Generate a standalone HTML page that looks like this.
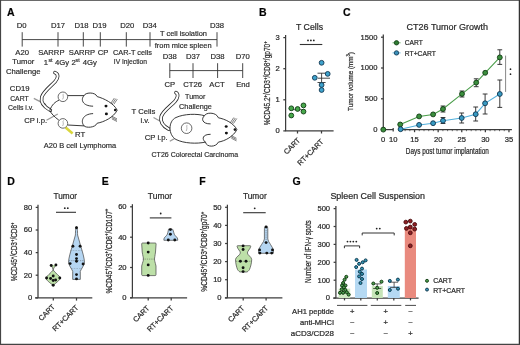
<!DOCTYPE html>
<html><head><meta charset="utf-8"><style>
html,body{margin:0;padding:0;background:#fff;width:520px;height:345px;overflow:hidden;}
svg{display:block;will-change:transform;}
text{font-family:"Liberation Sans", sans-serif;stroke:#2a2a2a;stroke-width:0.22px;}
.pa text{stroke-width:0.18px;}
</style></head><body>
<svg width="520" height="345" viewBox="0 0 520 345">
<rect width="520" height="345" fill="#fff"/>
<line x1="0" y1="0.5" x2="520" y2="0.5" stroke="#6a6a6a" stroke-width="1.2"/>
<line x1="0.5" y1="0" x2="0.5" y2="345" stroke="#444" stroke-width="1.2"/>
<line x1="519.4" y1="0" x2="519.4" y2="345" stroke="#333" stroke-width="1.3"/>
<line x1="0" y1="344.4" x2="520" y2="344.4" stroke="#444" stroke-width="1.3"/>
<text x="7" y="15.7" font-size="10.5" font-weight="bold" fill="#000">A</text>
<text x="259" y="15.8" font-size="10.5" font-weight="bold" fill="#000">B</text>
<text x="343" y="15.7" font-size="10.5" font-weight="bold" fill="#000">C</text>
<text x="7.3" y="185" font-size="10.5" font-weight="bold" fill="#000">D</text>
<text x="101.7" y="185" font-size="10.5" font-weight="bold" fill="#000">E</text>
<text x="199.3" y="185" font-size="10.5" font-weight="bold" fill="#000">F</text>
<text x="292.5" y="185" font-size="10.5" font-weight="bold" fill="#000">G</text>
<g class="pa">
<line x1="22.2" y1="39.6" x2="217" y2="39.6" stroke="#333" stroke-width="0.9"/>
<line x1="22.2" y1="32.2" x2="22.2" y2="46.6" stroke="#333" stroke-width="0.9"/>
<line x1="58" y1="32.2" x2="58" y2="46.6" stroke="#333" stroke-width="0.9"/>
<line x1="83.3" y1="32.2" x2="83.3" y2="46.6" stroke="#333" stroke-width="0.9"/>
<line x1="100.3" y1="32.2" x2="100.3" y2="46.6" stroke="#333" stroke-width="0.9"/>
<line x1="126.3" y1="32.2" x2="126.3" y2="46.6" stroke="#333" stroke-width="0.9"/>
<line x1="150" y1="32.2" x2="150" y2="46.6" stroke="#333" stroke-width="0.9"/>
<line x1="217" y1="32.2" x2="217" y2="46.6" stroke="#333" stroke-width="0.9"/>
<text x="21.7" y="27.8" font-size="7.7" text-anchor="middle" fill="#2a2a2a">D0</text>
<text x="58" y="27.8" font-size="7.7" text-anchor="middle" fill="#2a2a2a">D17</text>
<text x="81.6" y="27.8" font-size="7.7" text-anchor="middle" fill="#2a2a2a">D18</text>
<text x="99.6" y="27.8" font-size="7.7" text-anchor="middle" fill="#2a2a2a">D19</text>
<text x="127.2" y="27.8" font-size="7.7" text-anchor="middle" fill="#2a2a2a">D20</text>
<text x="149.8" y="27.8" font-size="7.7" text-anchor="middle" fill="#2a2a2a">D34</text>
<text x="217" y="27.8" font-size="7.7" text-anchor="middle" fill="#2a2a2a">D38</text>
<text x="22.2" y="54.8" font-size="7.7" text-anchor="middle" fill="#2a2a2a">A20</text>
<text x="38.2" y="54.8" font-size="7.7" textLength="26.3" lengthAdjust="spacingAndGlyphs" fill="#2a2a2a">SARRP</text>
<text x="68.8" y="54.8" font-size="7.7" textLength="26.3" lengthAdjust="spacingAndGlyphs" fill="#2a2a2a">SARRP</text>
<text x="97.7" y="54.8" font-size="7.7" fill="#2a2a2a">CP</text>
<text x="113" y="54.8" font-size="7.7" textLength="39" lengthAdjust="spacingAndGlyphs" fill="#2a2a2a">CAR-T cells</text>
<text x="23.3" y="64.3" font-size="7.7" text-anchor="middle" fill="#2a2a2a">Tumor</text>
<text x="23.3" y="74.2" font-size="7.7" text-anchor="middle" fill="#2a2a2a">Challenge</text>
<text x="43.7" y="65.4" font-size="7.7" fill="#2a2a2a">1</text>
<text x="48.5" y="62.2" font-size="5.2" fill="#2a2a2a">st</text>
<text x="55" y="65.4" font-size="7.7" fill="#2a2a2a">4Gy</text>
<text x="71.4" y="65.4" font-size="7.7" fill="#2a2a2a">2</text>
<text x="75.6" y="62.3" font-size="5.2" fill="#2a2a2a">st</text>
<text x="82.7" y="65.4" font-size="7.7" fill="#2a2a2a">4Gy</text>
<text x="113.8" y="64.3" font-size="7.7" textLength="33.2" lengthAdjust="spacingAndGlyphs" fill="#2a2a2a">IV Injection</text>
<text x="183.5" y="36.2" font-size="7.5" text-anchor="middle" textLength="47" lengthAdjust="spacingAndGlyphs" fill="#2a2a2a">T cell isolation</text>
<text x="183.2" y="47.8" font-size="7.3" text-anchor="middle" textLength="57" lengthAdjust="spacingAndGlyphs" fill="#2a2a2a">from mice spleen</text>
<line x1="169.8" y1="70.6" x2="242.7" y2="70.6" stroke="#333" stroke-width="0.9"/>
<line x1="169.8" y1="63.2" x2="169.8" y2="78" stroke="#333" stroke-width="0.9"/>
<line x1="193" y1="63.2" x2="193" y2="78" stroke="#333" stroke-width="0.9"/>
<line x1="217.6" y1="63.2" x2="217.6" y2="78" stroke="#333" stroke-width="0.9"/>
<line x1="242.7" y1="63.2" x2="242.7" y2="78" stroke="#333" stroke-width="0.9"/>
<text x="169.8" y="59" font-size="7.7" text-anchor="middle" fill="#2a2a2a">D38</text>
<text x="193" y="59" font-size="7.7" text-anchor="middle" fill="#2a2a2a">D37</text>
<text x="217.6" y="59" font-size="7.7" text-anchor="middle" fill="#2a2a2a">D38</text>
<text x="242.7" y="59" font-size="7.7" text-anchor="middle" fill="#2a2a2a">D70</text>
<text x="169.8" y="87" font-size="7.7" text-anchor="middle" fill="#2a2a2a">CP</text>
<text x="192.6" y="87" font-size="7.7" text-anchor="middle" fill="#2a2a2a">CT26</text>
<text x="217" y="87" font-size="7.7" text-anchor="middle" fill="#2a2a2a">ACT</text>
<text x="243" y="87" font-size="7.7" text-anchor="middle" fill="#2a2a2a">End</text>
<text x="195.2" y="99" font-size="7.7" text-anchor="middle" textLength="20.3" lengthAdjust="spacingAndGlyphs" fill="#2a2a2a">Tumor</text>
<text x="195.5" y="109" font-size="7.7" text-anchor="middle" textLength="32.8" lengthAdjust="spacingAndGlyphs" fill="#2a2a2a">Challenge</text>
<text x="19.7" y="91.2" font-size="7.7" text-anchor="middle" fill="#2a2a2a">CD19</text>
<text x="19.4" y="100.6" font-size="7.7" text-anchor="middle" textLength="18.4" lengthAdjust="spacingAndGlyphs" fill="#2a2a2a">CART</text>
<text x="20.9" y="110.2" font-size="7.7" text-anchor="middle" textLength="25.6" lengthAdjust="spacingAndGlyphs" fill="#2a2a2a">Cells i.v.</text>
<text x="35.6" y="123" font-size="7.7" text-anchor="middle" fill="#2a2a2a">CP i.p.</text>
<text x="75" y="137" font-size="7.7" fill="#2a2a2a">RT</text>
<text x="80" y="148.2" font-size="7.7" text-anchor="middle" textLength="72.5" lengthAdjust="spacingAndGlyphs" fill="#2a2a2a">A20 B cell Lymphoma</text>
<text x="143.4" y="114" font-size="7.7" text-anchor="middle" fill="#2a2a2a">T Cells</text>
<text x="145.1" y="123.2" font-size="7.7" text-anchor="middle" fill="#2a2a2a">i.v.</text>
<text x="156.2" y="139.6" font-size="7.7" text-anchor="middle" fill="#2a2a2a">CP i.p.</text>
<text x="194.8" y="157" font-size="7.7" text-anchor="middle" textLength="86.5" lengthAdjust="spacingAndGlyphs" fill="#2a2a2a">CT26 Colorectal Carcinoma</text>
</g>
<line x1="33.8" y1="98.3" x2="46" y2="104.6" stroke="#9a9a9a" stroke-width="1.3"/>
<line x1="46.5" y1="120.3" x2="57.8" y2="114" stroke="#9a9a9a" stroke-width="1.3"/>
<path d="M55 72.6 C 58.6 74, 58.4 78, 55.2 81.5 C 50.5 86.5, 44 91, 41.8 97 C 40.5 102, 43.5 106.5, 50.3 110.3" fill="none" stroke="#2a2a2a" stroke-width="3.6" stroke-linecap="round"/>
<path d="M55 72.6 C 58.6 74, 58.4 78, 55.2 81.5 C 50.5 86.5, 44 91, 41.8 97 C 40.5 102, 43.5 106.5, 50.3 110.3" fill="none" stroke="#fff" stroke-width="2.0" stroke-linecap="round"/>
<path d="M59.3 100 C 55 102, 52 104.5, 49.8 110.3 C 51 113.5, 54.5 117, 58.8 120.1" fill="none" stroke="#222" stroke-width="0.9"/>
<path d="M67.8 95.6 L 84.1 95.6" fill="none" stroke="#222" stroke-width="0.9"/>
<path d="M67.8 125 L 84.1 125.9" fill="none" stroke="#222" stroke-width="0.9"/>
<path d="M84.1 95.6 C 85 92.5, 95 91.5, 97.2 96.6 C 104 98.5, 113.5 103, 117.2 110.2 C 113.5 117.5, 104 122, 97.2 123.2 C 95 128, 86 128, 84.1 125.9" fill="none" stroke="#222" stroke-width="0.9"/>
<path d="M84.1 95.6 C 80.5 99, 82 106, 93.1 106.2" fill="none" stroke="#222" stroke-width="0.9"/>
<path d="M84.1 125.9 C 80.5 122, 82 114, 93.1 113.6" fill="none" stroke="#222" stroke-width="0.9"/>
<ellipse cx="106" cy="106.1" rx="1.5" ry="1.3" fill="#111"/>
<ellipse cx="106.4" cy="113.9" rx="1.5" ry="1.3" fill="#111"/>
<circle cx="115.2" cy="110" r="1.3" fill="#111"/>
<line x1="110.9" y1="103.2" x2="114.3" y2="98.1" stroke="#2a2a2a" stroke-width="0.6"/>
<line x1="112.4" y1="103.7" x2="115.8" y2="98.6" stroke="#2a2a2a" stroke-width="0.6"/>
<line x1="113.9" y1="104.2" x2="117.3" y2="99.1" stroke="#2a2a2a" stroke-width="0.6"/>
<line x1="111.8" y1="116.2" x2="117" y2="118.9" stroke="#2a2a2a" stroke-width="0.6"/>
<line x1="111.8" y1="117.5" x2="117" y2="120.2" stroke="#2a2a2a" stroke-width="0.6"/>
<line x1="111.8" y1="118.8" x2="117" y2="121.5" stroke="#2a2a2a" stroke-width="0.6"/>
<circle cx="62.9" cy="96.8" r="4.8" fill="#fff" stroke="#444" stroke-width="0.8"/>
<path d="M63.6 93.8 C 62 94.8, 64.5 96.8, 62.6 99.39999999999999" fill="none" stroke="#888" stroke-width="0.6"/>
<circle cx="62.9" cy="123.4" r="4.8" fill="#fff" stroke="#444" stroke-width="0.8"/>
<path d="M63.6 120.4 C 62 121.4, 64.5 123.4, 62.6 126.0" fill="none" stroke="#888" stroke-width="0.6"/>
<line x1="65.6" y1="127.4" x2="72.6" y2="133.4" stroke="#d9d63c" stroke-width="2.6"/>
<line x1="153.5" y1="117.5" x2="163.5" y2="123" stroke="#9a9a9a" stroke-width="1.3"/>
<line x1="169.8" y1="141.3" x2="178" y2="136.6" stroke="#9a9a9a" stroke-width="1.3"/>
<path d="M176 92.6 C 178.6 94, 178 98, 174.8 101.5 C 170 106.5, 163 111, 161.2 116.6 C 160 121.5, 163 126, 168.8 129.2" fill="none" stroke="#2a2a2a" stroke-width="3.6" stroke-linecap="round"/>
<path d="M176 92.6 C 178.6 94, 178 98, 174.8 101.5 C 170 106.5, 163 111, 161.2 116.6 C 160 121.5, 163 126, 168.8 129.2" fill="none" stroke="#fff" stroke-width="2.0" stroke-linecap="round"/>
<path d="M204.5 115.7 C 197 113.5, 184 113.8, 176 117.5 C 168 121, 168 135, 176 139.5 C 184 143.5, 197 144, 205.4 142.1" fill="#fff" stroke="#222" stroke-width="0.9"/>
<path d="M204.5 115.7 C 205.5 112.5, 216 111.5, 218.4 117.8 C 225 119, 233.5 123, 236.9 129.6 C 233.5 136.5, 225 141, 218.4 142.1 C 216 147.5, 206.5 147.5, 205.4 142.1" fill="none" stroke="#222" stroke-width="0.9"/>
<path d="M204.5 115.7 C 201 118.5, 202 124, 210.6 123.9" fill="none" stroke="#222" stroke-width="0.9"/>
<path d="M205.4 142.1 C 201.5 139, 202.5 134.3, 210.6 134.3" fill="none" stroke="#222" stroke-width="0.9"/>
<ellipse cx="226.2" cy="126.5" rx="1.5" ry="1.3" fill="#111"/>
<ellipse cx="226.4" cy="133.1" rx="1.5" ry="1.3" fill="#111"/>
<circle cx="234.9" cy="129.6" r="1.3" fill="#111"/>
<line x1="230.4" y1="122.6" x2="233.8" y2="117.5" stroke="#2a2a2a" stroke-width="0.6"/>
<line x1="231.9" y1="123.1" x2="235.3" y2="118.0" stroke="#2a2a2a" stroke-width="0.6"/>
<line x1="233.4" y1="123.6" x2="236.8" y2="118.5" stroke="#2a2a2a" stroke-width="0.6"/>
<line x1="231.3" y1="135.6" x2="236.5" y2="138.3" stroke="#2a2a2a" stroke-width="0.6"/>
<line x1="231.3" y1="136.9" x2="236.5" y2="139.60000000000002" stroke="#2a2a2a" stroke-width="0.6"/>
<line x1="231.3" y1="138.2" x2="236.5" y2="140.9" stroke="#2a2a2a" stroke-width="0.6"/>
<circle cx="186.6" cy="128.2" r="5.3" fill="#fff" stroke="#444" stroke-width="0.8"/>
<path d="M187.2 125 C 185.8 126, 188 128, 186.2 131" fill="none" stroke="#888" stroke-width="0.6"/>
<text x="309.5" y="29.9" font-size="8.8" text-anchor="middle" textLength="27" lengthAdjust="spacingAndGlyphs" fill="#2a2a2a">T Cells</text>
<line x1="285.6" y1="35.0" x2="285.6" y2="131" stroke="#3c3c3c" stroke-width="1.25"/>
<line x1="283.3" y1="37.6" x2="285.6" y2="37.6" stroke="#3c3c3c" stroke-width="1.25"/>
<text x="279.8" y="40.050000000000004" font-size="7.6" text-anchor="end" fill="#2a2a2a">3</text>
<line x1="283.3" y1="68.7" x2="285.6" y2="68.7" stroke="#3c3c3c" stroke-width="1.25"/>
<text x="279.8" y="71.15" font-size="7.6" text-anchor="end" fill="#2a2a2a">2</text>
<line x1="283.3" y1="99.8" x2="285.6" y2="99.8" stroke="#3c3c3c" stroke-width="1.25"/>
<text x="279.8" y="102.25" font-size="7.6" text-anchor="end" fill="#2a2a2a">1</text>
<line x1="283.3" y1="130.9" x2="285.6" y2="130.9" stroke="#3c3c3c" stroke-width="1.25"/>
<text x="279.8" y="133.35" font-size="7.6" text-anchor="end" fill="#2a2a2a">0</text>
<line x1="285.1" y1="130.9" x2="333.6" y2="130.9" stroke="#3c3c3c" stroke-width="1.25"/>
<line x1="297.5" y1="130.9" x2="297.5" y2="133.5" stroke="#3c3c3c" stroke-width="1.25"/>
<line x1="321.5" y1="130.9" x2="321.5" y2="133.5" stroke="#3c3c3c" stroke-width="1.25"/>
<line x1="299.8" y1="44.5" x2="322.3" y2="44.5" stroke="#333" stroke-width="1.1"/>
<circle cx="308" cy="40.4" r="0.9" fill="#222"/>
<circle cx="310.9" cy="40.4" r="0.9" fill="#222"/>
<circle cx="313.8" cy="40.4" r="0.9" fill="#222"/>
<line x1="290" y1="109.7" x2="304" y2="109.7" stroke="#333" stroke-width="0.8"/>
<circle cx="291.3" cy="108.3" r="2.4" fill="#47a84b" stroke="#0f3a12" stroke-width="0.9"/>
<circle cx="297.6" cy="109" r="2.4" fill="#47a84b" stroke="#0f3a12" stroke-width="0.9"/>
<circle cx="303.5" cy="105.4" r="2.4" fill="#47a84b" stroke="#0f3a12" stroke-width="0.9"/>
<circle cx="303.5" cy="111.6" r="2.4" fill="#47a84b" stroke="#0f3a12" stroke-width="0.9"/>
<circle cx="291.3" cy="115.5" r="2.4" fill="#47a84b" stroke="#0f3a12" stroke-width="0.9"/>
<line x1="318" y1="78.2" x2="330" y2="78.2" stroke="#333" stroke-width="0.9"/>
<line x1="321.6" y1="73.2" x2="321.6" y2="82.5" stroke="#333" stroke-width="0.9"/>
<line x1="317.5" y1="73.2" x2="325.6" y2="73.2" stroke="#333" stroke-width="0.9"/>
<line x1="317.5" y1="82.5" x2="325.6" y2="82.5" stroke="#333" stroke-width="0.9"/>
<circle cx="321.6" cy="62.8" r="2.4" fill="#3ea2cc" stroke="#0e3550" stroke-width="0.9"/>
<circle cx="327.7" cy="73.9" r="2.4" fill="#3ea2cc" stroke="#0e3550" stroke-width="0.9"/>
<circle cx="314.8" cy="77.8" r="2.4" fill="#3ea2cc" stroke="#0e3550" stroke-width="0.9"/>
<circle cx="321.6" cy="85" r="2.4" fill="#3ea2cc" stroke="#0e3550" stroke-width="0.9"/>
<circle cx="321.6" cy="90" r="2.4" fill="#3ea2cc" stroke="#0e3550" stroke-width="0.9"/>
<text x="0" y="0" font-size="8.6" text-anchor="middle" fill="#2a2a2a" transform="translate(270.2 83.3) rotate(-90) scale(0.7583 1)">%CD45.2<tspan font-size="5.68" dy="-3.61">+</tspan><tspan dy="3.61">/CD3</tspan><tspan font-size="5.68" dy="-3.61">+</tspan><tspan dy="3.61">/CD8</tspan><tspan font-size="5.68" dy="-3.61">+</tspan><tspan dy="3.61">/gp70</tspan><tspan font-size="5.68" dy="-3.61">+</tspan></text>
<text x="0" y="0" font-size="7.3" text-anchor="end" fill="#2a2a2a" transform="translate(300.7 140.8) rotate(-45)">CART</text>
<text x="0" y="0" font-size="7.3" text-anchor="end" fill="#2a2a2a" transform="translate(324.0 142.2) rotate(-45)">RT+CART</text>
<text x="447.3" y="30.1" font-size="8.9" text-anchor="middle" textLength="81.5" lengthAdjust="spacingAndGlyphs" fill="#2a2a2a">CT26 Tumor Growth</text>
<line x1="383.3" y1="34.6" x2="383.3" y2="129.6" stroke="#3c3c3c" stroke-width="1.25"/>
<line x1="381.0" y1="37.2" x2="383.3" y2="37.2" stroke="#3c3c3c" stroke-width="1.25"/>
<text x="377.5" y="39.650000000000006" font-size="7.6" text-anchor="end" fill="#2a2a2a">1500</text>
<line x1="381.0" y1="68" x2="383.3" y2="68" stroke="#3c3c3c" stroke-width="1.25"/>
<text x="377.5" y="70.45" font-size="7.6" text-anchor="end" fill="#2a2a2a">1000</text>
<line x1="381.0" y1="98.8" x2="383.3" y2="98.8" stroke="#3c3c3c" stroke-width="1.25"/>
<text x="377.5" y="101.25" font-size="7.6" text-anchor="end" fill="#2a2a2a">500</text>
<line x1="381.0" y1="129.6" x2="383.3" y2="129.6" stroke="#3c3c3c" stroke-width="1.25"/>
<text x="377.5" y="132.04999999999998" font-size="7.6" text-anchor="end" fill="#2a2a2a">0</text>
<line x1="383.3" y1="129.6" x2="393.2" y2="129.6" stroke="#3c3c3c" stroke-width="1.25"/>
<line x1="393.2" y1="127.9" x2="393.2" y2="131.5" stroke="#3c3c3c" stroke-width="1.25"/>
<line x1="398.6" y1="129.6" x2="511.9" y2="129.6" stroke="#3c3c3c" stroke-width="1.25"/>
<line x1="405.12" y1="129.6" x2="405.12" y2="131.2" stroke="#333" stroke-width="0.7"/>
<line x1="409.84" y1="129.6" x2="409.84" y2="131.2" stroke="#333" stroke-width="0.7"/>
<line x1="414.56" y1="129.6" x2="414.56" y2="132.2" stroke="#3c3c3c" stroke-width="1.25"/>
<line x1="419.28" y1="129.6" x2="419.28" y2="131.2" stroke="#333" stroke-width="0.7"/>
<line x1="424.0" y1="129.6" x2="424.0" y2="131.2" stroke="#333" stroke-width="0.7"/>
<line x1="428.71999999999997" y1="129.6" x2="428.71999999999997" y2="131.2" stroke="#333" stroke-width="0.7"/>
<line x1="433.44" y1="129.6" x2="433.44" y2="131.2" stroke="#333" stroke-width="0.7"/>
<line x1="438.15999999999997" y1="129.6" x2="438.15999999999997" y2="132.2" stroke="#3c3c3c" stroke-width="1.25"/>
<line x1="442.88" y1="129.6" x2="442.88" y2="131.2" stroke="#333" stroke-width="0.7"/>
<line x1="447.59999999999997" y1="129.6" x2="447.59999999999997" y2="131.2" stroke="#333" stroke-width="0.7"/>
<line x1="452.32" y1="129.6" x2="452.32" y2="131.2" stroke="#333" stroke-width="0.7"/>
<line x1="457.03999999999996" y1="129.6" x2="457.03999999999996" y2="131.2" stroke="#333" stroke-width="0.7"/>
<line x1="461.76" y1="129.6" x2="461.76" y2="132.2" stroke="#3c3c3c" stroke-width="1.25"/>
<line x1="466.47999999999996" y1="129.6" x2="466.47999999999996" y2="131.2" stroke="#333" stroke-width="0.7"/>
<line x1="471.2" y1="129.6" x2="471.2" y2="131.2" stroke="#333" stroke-width="0.7"/>
<line x1="475.91999999999996" y1="129.6" x2="475.91999999999996" y2="131.2" stroke="#333" stroke-width="0.7"/>
<line x1="480.64" y1="129.6" x2="480.64" y2="131.2" stroke="#333" stroke-width="0.7"/>
<line x1="485.35999999999996" y1="129.6" x2="485.35999999999996" y2="132.2" stroke="#3c3c3c" stroke-width="1.25"/>
<line x1="490.08" y1="129.6" x2="490.08" y2="131.2" stroke="#333" stroke-width="0.7"/>
<line x1="494.79999999999995" y1="129.6" x2="494.79999999999995" y2="131.2" stroke="#333" stroke-width="0.7"/>
<line x1="499.52" y1="129.6" x2="499.52" y2="131.2" stroke="#333" stroke-width="0.7"/>
<line x1="504.23999999999995" y1="129.6" x2="504.23999999999995" y2="131.2" stroke="#333" stroke-width="0.7"/>
<line x1="508.96" y1="129.6" x2="508.96" y2="132.2" stroke="#3c3c3c" stroke-width="1.25"/>
<text x="383" y="142" font-size="7.6" text-anchor="middle" fill="#2a2a2a">0</text>
<text x="393.2" y="142" font-size="7.6" text-anchor="middle" fill="#2a2a2a">10</text>
<text x="414.56" y="142" font-size="7.6" text-anchor="middle" fill="#2a2a2a">15</text>
<text x="438.15999999999997" y="142" font-size="7.6" text-anchor="middle" fill="#2a2a2a">20</text>
<text x="461.76" y="142" font-size="7.6" text-anchor="middle" fill="#2a2a2a">25</text>
<text x="485.35999999999996" y="142" font-size="7.6" text-anchor="middle" fill="#2a2a2a">30</text>
<text x="508.96" y="142" font-size="7.6" text-anchor="middle" fill="#2a2a2a">35</text>
<text x="0" y="0" font-size="8.4" text-anchor="middle" fill="#2a2a2a" transform="translate(447.3 154.4) scale(0.7630 1)">Days post tumor implantation</text>
<text x="0" y="0" font-size="7.7" text-anchor="middle" fill="#2a2a2a" transform="translate(353.4 81.5) rotate(-90) scale(0.8213 1)">Tumor volume (mm<tspan font-size="5.08" dy="-3.23">3</tspan><tspan dy="3.23">)</tspan></text>
<path d="M400.2 124.5 L419.1 116.4 L433.1 114.4 L443 109 L462 93.9 L476.2 82.6 L485.2 72.8 L499.8 57.4" fill="none" stroke="#4a9e4a" stroke-width="1.05"/>
<path d="M400.6 129.2 L419.1 124.9 L433.1 123.2 L443 120.7 L461.7 118 L475.7 114.2 L485.1 103.3 L499.8 94" fill="none" stroke="#52b0dc" stroke-width="1.05"/>
<line x1="443" y1="106" x2="443" y2="112" stroke="#2e2e2e" stroke-width="0.95"/>
<line x1="440.6" y1="106" x2="445.4" y2="106" stroke="#2e2e2e" stroke-width="0.95"/>
<line x1="440.6" y1="112" x2="445.4" y2="112" stroke="#2e2e2e" stroke-width="0.95"/>
<line x1="462" y1="91" x2="462" y2="97" stroke="#2e2e2e" stroke-width="0.95"/>
<line x1="459.6" y1="91" x2="464.4" y2="91" stroke="#2e2e2e" stroke-width="0.95"/>
<line x1="459.6" y1="97" x2="464.4" y2="97" stroke="#2e2e2e" stroke-width="0.95"/>
<line x1="476.2" y1="78.8" x2="476.2" y2="86.7" stroke="#2e2e2e" stroke-width="0.95"/>
<line x1="473.8" y1="78.8" x2="478.59999999999997" y2="78.8" stroke="#2e2e2e" stroke-width="0.95"/>
<line x1="473.8" y1="86.7" x2="478.59999999999997" y2="86.7" stroke="#2e2e2e" stroke-width="0.95"/>
<line x1="499.8" y1="49.8" x2="499.8" y2="64.4" stroke="#2e2e2e" stroke-width="0.95"/>
<line x1="497.40000000000003" y1="49.8" x2="502.2" y2="49.8" stroke="#2e2e2e" stroke-width="0.95"/>
<line x1="497.40000000000003" y1="64.4" x2="502.2" y2="64.4" stroke="#2e2e2e" stroke-width="0.95"/>
<line x1="443" y1="117.5" x2="443" y2="123.5" stroke="#2e2e2e" stroke-width="0.95"/>
<line x1="440.6" y1="117.5" x2="445.4" y2="117.5" stroke="#2e2e2e" stroke-width="0.95"/>
<line x1="440.6" y1="123.5" x2="445.4" y2="123.5" stroke="#2e2e2e" stroke-width="0.95"/>
<line x1="461.7" y1="113" x2="461.7" y2="123" stroke="#2e2e2e" stroke-width="0.95"/>
<line x1="459.3" y1="113" x2="464.09999999999997" y2="113" stroke="#2e2e2e" stroke-width="0.95"/>
<line x1="459.3" y1="123" x2="464.09999999999997" y2="123" stroke="#2e2e2e" stroke-width="0.95"/>
<line x1="475.7" y1="107" x2="475.7" y2="121" stroke="#2e2e2e" stroke-width="0.95"/>
<line x1="473.3" y1="107" x2="478.09999999999997" y2="107" stroke="#2e2e2e" stroke-width="0.95"/>
<line x1="473.3" y1="121" x2="478.09999999999997" y2="121" stroke="#2e2e2e" stroke-width="0.95"/>
<line x1="485.1" y1="94" x2="485.1" y2="114" stroke="#2e2e2e" stroke-width="0.95"/>
<line x1="482.70000000000005" y1="94" x2="487.5" y2="94" stroke="#2e2e2e" stroke-width="0.95"/>
<line x1="482.70000000000005" y1="114" x2="487.5" y2="114" stroke="#2e2e2e" stroke-width="0.95"/>
<line x1="499.8" y1="80" x2="499.8" y2="107.4" stroke="#2e2e2e" stroke-width="0.95"/>
<line x1="497.40000000000003" y1="80" x2="502.2" y2="80" stroke="#2e2e2e" stroke-width="0.95"/>
<line x1="497.40000000000003" y1="107.4" x2="502.2" y2="107.4" stroke="#2e2e2e" stroke-width="0.95"/>
<circle cx="383.3" cy="129.6" r="2.45" fill="#3b8f3d" stroke="#0f3a12" stroke-width="0.9"/>
<circle cx="400.2" cy="124.5" r="2.45" fill="#3b8f3d" stroke="#0f3a12" stroke-width="0.9"/>
<circle cx="419.1" cy="116.4" r="2.45" fill="#3b8f3d" stroke="#0f3a12" stroke-width="0.9"/>
<circle cx="433.1" cy="114.4" r="2.45" fill="#3b8f3d" stroke="#0f3a12" stroke-width="0.9"/>
<circle cx="443" cy="109" r="2.45" fill="#3b8f3d" stroke="#0f3a12" stroke-width="0.9"/>
<circle cx="462" cy="93.9" r="2.45" fill="#3b8f3d" stroke="#0f3a12" stroke-width="0.9"/>
<circle cx="476.2" cy="82.6" r="2.45" fill="#3b8f3d" stroke="#0f3a12" stroke-width="0.9"/>
<circle cx="485.2" cy="72.8" r="2.45" fill="#3b8f3d" stroke="#0f3a12" stroke-width="0.9"/>
<circle cx="499.8" cy="57.4" r="2.45" fill="#3b8f3d" stroke="#0f3a12" stroke-width="0.9"/>
<circle cx="400.6" cy="129.2" r="2.45" fill="#379ac2" stroke="#0e3550" stroke-width="0.9"/>
<circle cx="419.1" cy="124.9" r="2.45" fill="#379ac2" stroke="#0e3550" stroke-width="0.9"/>
<circle cx="433.1" cy="123.2" r="2.45" fill="#379ac2" stroke="#0e3550" stroke-width="0.9"/>
<circle cx="443" cy="120.7" r="2.45" fill="#379ac2" stroke="#0e3550" stroke-width="0.9"/>
<circle cx="461.7" cy="118" r="2.45" fill="#379ac2" stroke="#0e3550" stroke-width="0.9"/>
<circle cx="475.7" cy="114.2" r="2.45" fill="#379ac2" stroke="#0e3550" stroke-width="0.9"/>
<circle cx="485.1" cy="103.3" r="2.45" fill="#379ac2" stroke="#0e3550" stroke-width="0.9"/>
<circle cx="499.8" cy="94" r="2.45" fill="#379ac2" stroke="#0e3550" stroke-width="0.9"/>
<line x1="392.5" y1="42.8" x2="400.6" y2="42.8" stroke="#4a9e4a" stroke-width="0.8"/>
<circle cx="396.5" cy="42.8" r="2.2" fill="#2f7d32" stroke="#0f3a12" stroke-width="0.8"/>
<line x1="392.5" y1="52.9" x2="400.6" y2="52.9" stroke="#52b0dc" stroke-width="0.8"/>
<circle cx="396.5" cy="52.9" r="2.2" fill="#3a8fb8" stroke="#0e3550" stroke-width="0.8"/>
<text x="404.8" y="45.2" font-size="7.2" textLength="18" lengthAdjust="spacingAndGlyphs" fill="#2a2a2a">CART</text>
<text x="404.8" y="55.5" font-size="7.2" textLength="31" lengthAdjust="spacingAndGlyphs" fill="#2a2a2a">RT+CART</text>
<line x1="505.6" y1="55.6" x2="505.6" y2="91.9" stroke="#888" stroke-width="1.0"/>
<circle cx="510.5" cy="69.2" r="0.85" fill="#222"/>
<circle cx="510.5" cy="74.2" r="0.85" fill="#222"/>
<text x="65.3" y="198.7" font-size="8.7" text-anchor="middle" textLength="23.5" lengthAdjust="spacingAndGlyphs" fill="#2a2a2a">Tumor</text>
<line x1="38" y1="204.8" x2="38" y2="297.9" stroke="#3c3c3c" stroke-width="1.25"/>
<line x1="35.7" y1="207.4" x2="38" y2="207.4" stroke="#3c3c3c" stroke-width="1.25"/>
<text x="32.2" y="209.85" font-size="7.6" text-anchor="end" fill="#2a2a2a">80</text>
<line x1="35.7" y1="230" x2="38" y2="230" stroke="#3c3c3c" stroke-width="1.25"/>
<text x="32.2" y="232.45" font-size="7.6" text-anchor="end" fill="#2a2a2a">60</text>
<line x1="35.7" y1="252.6" x2="38" y2="252.6" stroke="#3c3c3c" stroke-width="1.25"/>
<text x="32.2" y="255.04999999999998" font-size="7.6" text-anchor="end" fill="#2a2a2a">40</text>
<line x1="35.7" y1="275.2" x2="38" y2="275.2" stroke="#3c3c3c" stroke-width="1.25"/>
<text x="32.2" y="277.65" font-size="7.6" text-anchor="end" fill="#2a2a2a">20</text>
<line x1="35.7" y1="297.9" x2="38" y2="297.9" stroke="#3c3c3c" stroke-width="1.25"/>
<text x="32.2" y="300.34999999999997" font-size="7.6" text-anchor="end" fill="#2a2a2a">0</text>
<line x1="35" y1="297.9" x2="92.3" y2="297.9" stroke="#3c3c3c" stroke-width="1.25"/>
<line x1="53.3" y1="297.9" x2="53.3" y2="300.6" stroke="#3c3c3c" stroke-width="1.25"/>
<line x1="76.5" y1="297.9" x2="76.5" y2="300.6" stroke="#3c3c3c" stroke-width="1.25"/>
<line x1="56" y1="212.3" x2="76" y2="212.3" stroke="#333" stroke-width="1.1"/>
<circle cx="64.8" cy="208.2" r="0.9" fill="#222"/>
<circle cx="67.8" cy="208.2" r="0.9" fill="#222"/>
<text x="0" y="0" font-size="8.6" text-anchor="middle" fill="#2a2a2a" transform="translate(17.4 251.9) rotate(-90) scale(0.7491 1)">%CD45<tspan font-size="5.68" dy="-3.61">+</tspan><tspan dy="3.61">/CD3</tspan><tspan font-size="5.68" dy="-3.61">+</tspan><tspan dy="3.61">/CD8</tspan><tspan font-size="5.68" dy="-3.61">+</tspan></text>
<text x="0" y="0" font-size="7.3" text-anchor="end" fill="#2a2a2a" transform="translate(55.5 307.3) rotate(-45)">CART</text>
<text x="0" y="0" font-size="7.3" text-anchor="end" fill="#2a2a2a" transform="translate(79.0 308.1) rotate(-45)">RT+CART</text>
<path d="M51.2 265 C 52 267, 53 268.5, 53.2 270 C 55 273, 60 276, 60.4 278 C 60 280, 56 283, 53.2 285.4 C 50 283, 46 280, 46 278 C 46.5 276, 51 273, 53.2 270 C 53.4 268.5, 54.5 267, 55.9 265" fill="#bde0a8" stroke="#444" stroke-width="0.7"/>
<circle cx="51.2" cy="265.5" r="1.45" fill="#111"/>
<circle cx="55.9" cy="265" r="1.45" fill="#111"/>
<circle cx="53.2" cy="285.2" r="1.45" fill="#111"/>
<circle cx="46.6" cy="278" r="1.45" fill="#111"/>
<circle cx="59.8" cy="278" r="1.45" fill="#111"/>
<circle cx="50.6" cy="278.5" r="1.45" fill="#111"/>
<circle cx="53.2" cy="276" r="1.45" fill="#111"/>
<circle cx="55.6" cy="280" r="1.45" fill="#111"/>
<circle cx="53.2" cy="280.5" r="1.45" fill="#111"/>
<path d="M76.5 226.6 C 77.4 226.6, 77.5 231, 77.6 235 L 80.7 246 C 82.5 252, 84.4 258, 84.5 262.5 C 84.1 265.5, 81.5 268.5, 80.3 271.3 L 80.3 279.4 L 72.7 279.4 L 72.7 271.3 C 71.5 268.5, 68.9 265.5, 68.5 262.5 C 68.6 258, 70.5 252, 72.3 246 L 75.4 235 C 75.5 231, 75.6 226.6, 76.5 226.6 Z" fill="#b6d6f2" stroke="#444" stroke-width="0.7"/>
<line x1="69" y1="260.7" x2="84" y2="260.7" stroke="#555" stroke-width="0.5" stroke-dasharray="1.2 1"/>
<line x1="70" y1="250.5" x2="83" y2="250.5" stroke="#555" stroke-width="0.4" stroke-dasharray="0.6 1"/>
<line x1="71" y1="268.5" x2="82" y2="268.5" stroke="#555" stroke-width="0.4" stroke-dasharray="0.6 1"/>
<circle cx="76.5" cy="227.8" r="1.45" fill="#111"/>
<circle cx="72.9" cy="246.2" r="1.45" fill="#111"/>
<circle cx="80.1" cy="246.2" r="1.45" fill="#111"/>
<circle cx="76.5" cy="254.5" r="1.45" fill="#111"/>
<circle cx="76.5" cy="258.6" r="1.45" fill="#111"/>
<circle cx="76.5" cy="261.3" r="1.45" fill="#111"/>
<circle cx="70.1" cy="263.6" r="1.45" fill="#111"/>
<circle cx="83.1" cy="264" r="1.45" fill="#111"/>
<circle cx="76.5" cy="274.6" r="1.45" fill="#111"/>
<circle cx="76.5" cy="278.9" r="1.45" fill="#111"/>
<text x="160" y="198.7" font-size="8.7" text-anchor="middle" textLength="24.3" lengthAdjust="spacingAndGlyphs" fill="#2a2a2a">Tumor</text>
<line x1="132.4" y1="204.20000000000002" x2="132.4" y2="297.8" stroke="#3c3c3c" stroke-width="1.25"/>
<line x1="130.1" y1="206.8" x2="132.4" y2="206.8" stroke="#3c3c3c" stroke-width="1.25"/>
<text x="126.60000000000001" y="209.25" font-size="7.6" text-anchor="end" fill="#2a2a2a">60</text>
<line x1="130.1" y1="237.2" x2="132.4" y2="237.2" stroke="#3c3c3c" stroke-width="1.25"/>
<text x="126.60000000000001" y="239.64999999999998" font-size="7.6" text-anchor="end" fill="#2a2a2a">40</text>
<line x1="130.1" y1="267.5" x2="132.4" y2="267.5" stroke="#3c3c3c" stroke-width="1.25"/>
<text x="126.60000000000001" y="269.95" font-size="7.6" text-anchor="end" fill="#2a2a2a">20</text>
<line x1="130.1" y1="297.8" x2="132.4" y2="297.8" stroke="#3c3c3c" stroke-width="1.25"/>
<text x="126.60000000000001" y="300.25" font-size="7.6" text-anchor="end" fill="#2a2a2a">0</text>
<line x1="130.1" y1="297.8" x2="187.1" y2="297.8" stroke="#3c3c3c" stroke-width="1.25"/>
<line x1="148.2" y1="297.8" x2="148.2" y2="300.4" stroke="#3c3c3c" stroke-width="1.25"/>
<line x1="171.2" y1="297.8" x2="171.2" y2="300.4" stroke="#3c3c3c" stroke-width="1.25"/>
<line x1="149.8" y1="217.9" x2="171.4" y2="217.9" stroke="#333" stroke-width="1.1"/>
<circle cx="160.7" cy="213.5" r="0.9" fill="#222"/>
<text x="0" y="0" font-size="8.6" text-anchor="middle" fill="#2a2a2a" transform="translate(112 251.1) rotate(-90) scale(0.7641 1)">%CD45<tspan font-size="5.68" dy="-3.61">+</tspan><tspan dy="3.61">/CD3</tspan><tspan font-size="5.68" dy="-3.61">+</tspan><tspan dy="3.61">/CD8</tspan><tspan font-size="5.68" dy="-3.61">+</tspan><tspan dy="3.61">/CD107</tspan><tspan font-size="5.68" dy="-3.61">+</tspan></text>
<text x="0" y="0" font-size="7.3" text-anchor="end" fill="#2a2a2a" transform="translate(150.0 308.6) rotate(-45)">CART</text>
<text x="0" y="0" font-size="7.3" text-anchor="end" fill="#2a2a2a" transform="translate(173.8 308.6) rotate(-45)">RT+CART</text>
<path d="M142.5 243 L 155.3 243 Q 156.1 243, 156.1 244 L 155.5 252 C 155 256, 154.5 258, 154.5 259.1 C 154.5 260.5, 155 262, 156 266 L 156 274.6 Q 156 275.6, 155 275.6 L 142.7 275.6 Q 141.7 275.6, 141.7 274.6 L 141.7 266 C 142.7 262, 143.5 260.5, 143.5 259.1 C 143.5 258, 142.8 256, 142.2 252 L 141.7 244 Q 141.7 243, 142.5 243 Z" fill="#bde0a8" stroke="#444" stroke-width="0.7"/>
<line x1="142.5" y1="259.1" x2="155.5" y2="259.1" stroke="#555" stroke-width="0.5" stroke-dasharray="1.2 1"/>
<circle cx="148.2" cy="243" r="1.45" fill="#111"/>
<circle cx="148.2" cy="252.1" r="1.45" fill="#111"/>
<circle cx="148.2" cy="264.9" r="1.45" fill="#111"/>
<circle cx="148.2" cy="275.4" r="1.45" fill="#111"/>
<path d="M168.6 229 L 172.2 229 C 173.2 229.5, 173.5 232, 174.3 234.3 C 175.3 236.3, 177.7 237.5, 177.7 239 L 177.7 240.3 L 163.9 240.3 L 163.9 239 C 163.9 237.5, 166.3 236.3, 167.3 234.3 C 168.1 232, 168.4 229.5, 168.6 229 Z" fill="#b6d6f2" stroke="#444" stroke-width="0.7"/>
<circle cx="170.4" cy="229.6" r="1.45" fill="#111"/>
<circle cx="170.4" cy="234.3" r="1.45" fill="#111"/>
<circle cx="168.3" cy="240" r="1.45" fill="#111"/>
<circle cx="174.8" cy="240" r="1.45" fill="#111"/>
<text x="254.8" y="198.7" font-size="8.7" text-anchor="middle" textLength="23.8" lengthAdjust="spacingAndGlyphs" fill="#2a2a2a">Tumor</text>
<line x1="227.4" y1="204.70000000000002" x2="227.4" y2="297.9" stroke="#3c3c3c" stroke-width="1.25"/>
<line x1="225.1" y1="207.3" x2="227.4" y2="207.3" stroke="#3c3c3c" stroke-width="1.25"/>
<text x="221.6" y="209.75" font-size="7.6" text-anchor="end" fill="#2a2a2a">50</text>
<line x1="225.1" y1="225.4" x2="227.4" y2="225.4" stroke="#3c3c3c" stroke-width="1.25"/>
<text x="221.6" y="227.85" font-size="7.6" text-anchor="end" fill="#2a2a2a">40</text>
<line x1="225.1" y1="243.5" x2="227.4" y2="243.5" stroke="#3c3c3c" stroke-width="1.25"/>
<text x="221.6" y="245.95" font-size="7.6" text-anchor="end" fill="#2a2a2a">30</text>
<line x1="225.1" y1="261.6" x2="227.4" y2="261.6" stroke="#3c3c3c" stroke-width="1.25"/>
<text x="221.6" y="264.05" font-size="7.6" text-anchor="end" fill="#2a2a2a">20</text>
<line x1="225.1" y1="279.7" x2="227.4" y2="279.7" stroke="#3c3c3c" stroke-width="1.25"/>
<text x="221.6" y="282.15" font-size="7.6" text-anchor="end" fill="#2a2a2a">10</text>
<line x1="225.1" y1="297.9" x2="227.4" y2="297.9" stroke="#3c3c3c" stroke-width="1.25"/>
<text x="221.6" y="300.34999999999997" font-size="7.6" text-anchor="end" fill="#2a2a2a">0</text>
<line x1="224.9" y1="297.9" x2="282.4" y2="297.9" stroke="#3c3c3c" stroke-width="1.25"/>
<line x1="243.2" y1="297.9" x2="243.2" y2="300.4" stroke="#3c3c3c" stroke-width="1.25"/>
<line x1="266.1" y1="297.9" x2="266.1" y2="300.4" stroke="#3c3c3c" stroke-width="1.25"/>
<line x1="243.2" y1="212.7" x2="265.7" y2="212.7" stroke="#333" stroke-width="1.1"/>
<circle cx="254.7" cy="208.3" r="0.9" fill="#222"/>
<text x="0" y="0" font-size="8.6" text-anchor="middle" fill="#2a2a2a" transform="translate(207.4 251.7) rotate(-90) scale(0.7722 1)">%CD45<tspan font-size="5.68" dy="-3.61">+</tspan><tspan dy="3.61">/CD3</tspan><tspan font-size="5.68" dy="-3.61">+</tspan><tspan dy="3.61">/CD8</tspan><tspan font-size="5.68" dy="-3.61">+</tspan><tspan dy="3.61">/gp70</tspan><tspan font-size="5.68" dy="-3.61">+</tspan></text>
<text x="0" y="0" font-size="7.3" text-anchor="end" fill="#2a2a2a" transform="translate(245.0 308.6) rotate(-45)">CART</text>
<text x="0" y="0" font-size="7.3" text-anchor="end" fill="#2a2a2a" transform="translate(268.7 308.6) rotate(-45)">RT+CART</text>
<path d="M237.5 245.7 L250.2 245.7 Q250.8 245.7 250.7 246.5 C 250.3 249, 247.4 251, 247.4 253 C 247.4 255, 251.7 257, 251.7 259.5 C 251.7 263, 250.5 267, 249.5 269.5 C 248.5 271, 247.5 272, 246.5 272 L 240.5 272 C 239.5 272, 238.5 271, 237.5 269.5 C 236.5 267, 235.5 263, 235.5 259.5 C 235.5 257, 240.4 255, 240.4 253 C 240.4 251, 237.5 249, 237.1 246.5 Q 237 245.7, 237.5 245.7 Z" fill="#bde0a8" stroke="#444" stroke-width="0.7"/>
<line x1="236" y1="261.3" x2="251" y2="261.3" stroke="#555" stroke-width="0.5" stroke-dasharray="1.2 1"/>
<circle cx="243.1" cy="245.9" r="1.45" fill="#111"/>
<circle cx="243.1" cy="249.5" r="1.45" fill="#111"/>
<circle cx="240.4" cy="261.3" r="1.45" fill="#111"/>
<circle cx="246" cy="261.3" r="1.45" fill="#111"/>
<circle cx="243.1" cy="267.7" r="1.45" fill="#111"/>
<circle cx="243.1" cy="271.6" r="1.45" fill="#111"/>
<path d="M265.2 226.5 L267 226.5 C 267.6 226.5, 267.8 228, 267.8 230 L 267.8 239 C 267.8 242, 273.4 247, 273.4 251 L 273.4 253.3 L 258.6 253.3 L 258.6 251 C 258.6 247, 264.4 242, 264.4 239 L 264.4 230 C 264.4 228, 264.6 226.5, 265.2 226.5 Z" fill="#b6d6f2" stroke="#444" stroke-width="0.7"/>
<line x1="266.1" y1="230" x2="266.1" y2="240" stroke="#555" stroke-width="0.5" stroke-dasharray="1.2 1"/>
<circle cx="266.1" cy="227" r="1.45" fill="#111"/>
<circle cx="266.1" cy="242.6" r="1.45" fill="#111"/>
<circle cx="259.6" cy="249.9" r="1.45" fill="#111"/>
<circle cx="272.5" cy="249.9" r="1.45" fill="#111"/>
<circle cx="259.9" cy="253.1" r="1.45" fill="#111"/>
<circle cx="266.8" cy="253.1" r="1.45" fill="#111"/>
<circle cx="271.7" cy="253.1" r="1.45" fill="#111"/>
<text x="377.7" y="198.8" font-size="8.9" text-anchor="middle" textLength="94.6" lengthAdjust="spacingAndGlyphs" fill="#2a2a2a">Spleen Cell Suspension</text>
<line x1="335.9" y1="206.0" x2="335.9" y2="298" stroke="#3c3c3c" stroke-width="1.25"/>
<line x1="333.59999999999997" y1="208.6" x2="335.9" y2="208.6" stroke="#3c3c3c" stroke-width="1.25"/>
<text x="330.09999999999997" y="211.04999999999998" font-size="7.6" text-anchor="end" fill="#2a2a2a">500</text>
<line x1="333.59999999999997" y1="226.5" x2="335.9" y2="226.5" stroke="#3c3c3c" stroke-width="1.25"/>
<text x="330.09999999999997" y="228.95" font-size="7.6" text-anchor="end" fill="#2a2a2a">400</text>
<line x1="333.59999999999997" y1="244.4" x2="335.9" y2="244.4" stroke="#3c3c3c" stroke-width="1.25"/>
<text x="330.09999999999997" y="246.85" font-size="7.6" text-anchor="end" fill="#2a2a2a">300</text>
<line x1="333.59999999999997" y1="262.3" x2="335.9" y2="262.3" stroke="#3c3c3c" stroke-width="1.25"/>
<text x="330.09999999999997" y="264.75" font-size="7.6" text-anchor="end" fill="#2a2a2a">200</text>
<line x1="333.59999999999997" y1="280.2" x2="335.9" y2="280.2" stroke="#3c3c3c" stroke-width="1.25"/>
<text x="330.09999999999997" y="282.65" font-size="7.6" text-anchor="end" fill="#2a2a2a">100</text>
<line x1="333.59999999999997" y1="298" x2="335.9" y2="298" stroke="#3c3c3c" stroke-width="1.25"/>
<text x="330.09999999999997" y="300.45" font-size="7.6" text-anchor="end" fill="#2a2a2a">0</text>
<text x="0" y="0" font-size="8.6" text-anchor="middle" fill="#2a2a2a" transform="translate(310.6 251.6) rotate(-90) scale(0.7261 1)">Number of IFN-&#947; spots</text>
<line x1="333.2" y1="298" x2="418.6" y2="298" stroke="#3c3c3c" stroke-width="1.25"/>
<rect x="338.6" y="288.6" width="11.6" height="9.4" fill="#cfe8c2"/>
<rect x="355" y="269.5" width="12" height="28.5" fill="#b5d9f3"/>
<rect x="371.8" y="286.1" width="11" height="11.9" fill="#c6e4b8"/>
<rect x="387.8" y="286" width="12" height="12" fill="#b5d9f3"/>
<rect x="404.8" y="227.4" width="11.2" height="70.6" fill="#e98a7e"/>
<line x1="344.5" y1="298" x2="344.5" y2="300.4" stroke="#3c3c3c" stroke-width="1.25"/>
<line x1="360.8" y1="298" x2="360.8" y2="300.4" stroke="#3c3c3c" stroke-width="1.25"/>
<line x1="377.3" y1="298" x2="377.3" y2="300.4" stroke="#3c3c3c" stroke-width="1.25"/>
<line x1="393.8" y1="298" x2="393.8" y2="300.4" stroke="#3c3c3c" stroke-width="1.25"/>
<line x1="410.5" y1="298" x2="410.5" y2="300.4" stroke="#3c3c3c" stroke-width="1.25"/>
<line x1="337" y1="305.4" x2="367.4" y2="305.4" stroke="#333" stroke-width="0.9"/>
<line x1="370.8" y1="305.4" x2="401.3" y2="305.4" stroke="#333" stroke-width="0.9"/>
<line x1="405.2" y1="305.4" x2="416" y2="305.4" stroke="#333" stroke-width="0.9"/>
<path d="M344.4 248.2 L344.4 245.9 L359.6 245.9 L359.6 248.2" fill="none" stroke="#333" stroke-width="1.0"/>
<path d="M362.2 235.4 L362.2 233 L394.2 233 L394.2 235.4" fill="none" stroke="#333" stroke-width="1.0"/>
<circle cx="347.5" cy="241.6" r="0.9" fill="#222"/>
<circle cx="350.4" cy="241.6" r="0.9" fill="#222"/>
<circle cx="353.3" cy="241.6" r="0.9" fill="#222"/>
<circle cx="356.3" cy="241.6" r="0.9" fill="#222"/>
<circle cx="376.7" cy="228.6" r="0.9" fill="#222"/>
<circle cx="379.8" cy="228.6" r="0.9" fill="#222"/>
<line x1="377.2" y1="283.9" x2="377.2" y2="288.5" stroke="#333" stroke-width="0.8"/>
<line x1="373.2" y1="283.9" x2="381.2" y2="283.9" stroke="#333" stroke-width="0.8"/>
<line x1="373.2" y1="288.5" x2="381.2" y2="288.5" stroke="#333" stroke-width="0.8"/>
<line x1="394.1" y1="282.2" x2="394.1" y2="287.4" stroke="#333" stroke-width="0.8"/>
<line x1="390.1" y1="282.2" x2="398.1" y2="282.2" stroke="#333" stroke-width="0.8"/>
<line x1="390.1" y1="287.4" x2="398.1" y2="287.4" stroke="#333" stroke-width="0.8"/>
<circle cx="346.3" cy="276.8" r="1.5" fill="#4e9e4e" stroke="#0f3a10" stroke-width="1.0"/>
<circle cx="344.6" cy="279.7" r="1.5" fill="#4e9e4e" stroke="#0f3a10" stroke-width="1.0"/>
<circle cx="343.1" cy="283" r="1.5" fill="#4e9e4e" stroke="#0f3a10" stroke-width="1.0"/>
<circle cx="342" cy="285.5" r="1.5" fill="#4e9e4e" stroke="#0f3a10" stroke-width="1.0"/>
<circle cx="345.5" cy="285.5" r="1.5" fill="#4e9e4e" stroke="#0f3a10" stroke-width="1.0"/>
<circle cx="343.9" cy="287.3" r="1.5" fill="#4e9e4e" stroke="#0f3a10" stroke-width="1.0"/>
<circle cx="341.7" cy="289.3" r="1.5" fill="#4e9e4e" stroke="#0f3a10" stroke-width="1.0"/>
<circle cx="345.3" cy="289.9" r="1.5" fill="#4e9e4e" stroke="#0f3a10" stroke-width="1.0"/>
<circle cx="340" cy="292.8" r="1.5" fill="#4e9e4e" stroke="#0f3a10" stroke-width="1.0"/>
<circle cx="343.1" cy="292.8" r="1.5" fill="#4e9e4e" stroke="#0f3a10" stroke-width="1.0"/>
<circle cx="346.8" cy="292.3" r="1.5" fill="#4e9e4e" stroke="#0f3a10" stroke-width="1.0"/>
<circle cx="348.7" cy="294.6" r="1.5" fill="#4e9e4e" stroke="#0f3a10" stroke-width="1.0"/>
<circle cx="356.6" cy="259.9" r="1.5" fill="#3596b5" stroke="#0b3a50" stroke-width="1.0"/>
<circle cx="365.6" cy="260.4" r="1.5" fill="#3596b5" stroke="#0b3a50" stroke-width="1.0"/>
<circle cx="362.7" cy="262.3" r="1.5" fill="#3596b5" stroke="#0b3a50" stroke-width="1.0"/>
<circle cx="359.1" cy="263.8" r="1.5" fill="#3596b5" stroke="#0b3a50" stroke-width="1.0"/>
<circle cx="356.2" cy="267.1" r="1.5" fill="#3596b5" stroke="#0b3a50" stroke-width="1.0"/>
<circle cx="362" cy="268.6" r="1.5" fill="#3596b5" stroke="#0b3a50" stroke-width="1.0"/>
<circle cx="359.8" cy="271.7" r="1.5" fill="#3596b5" stroke="#0b3a50" stroke-width="1.0"/>
<circle cx="362" cy="273.9" r="1.5" fill="#3596b5" stroke="#0b3a50" stroke-width="1.0"/>
<circle cx="359.1" cy="276.4" r="1.5" fill="#3596b5" stroke="#0b3a50" stroke-width="1.0"/>
<circle cx="362" cy="279" r="1.5" fill="#3596b5" stroke="#0b3a50" stroke-width="1.0"/>
<circle cx="360.5" cy="283" r="1.5" fill="#3596b5" stroke="#0b3a50" stroke-width="1.0"/>
<circle cx="373.3" cy="283.5" r="1.5" fill="#4e9e4e" stroke="#0f3a10" stroke-width="1.0"/>
<circle cx="381.5" cy="281.7" r="1.5" fill="#4e9e4e" stroke="#0f3a10" stroke-width="1.0"/>
<circle cx="377.2" cy="287.8" r="1.5" fill="#4e9e4e" stroke="#0f3a10" stroke-width="1.0"/>
<circle cx="377.2" cy="293" r="1.5" fill="#4e9e4e" stroke="#0f3a10" stroke-width="1.0"/>
<circle cx="389.8" cy="280.9" r="1.5" fill="#3596b5" stroke="#0b3a50" stroke-width="1.0"/>
<circle cx="397.9" cy="279.6" r="1.5" fill="#3596b5" stroke="#0b3a50" stroke-width="1.0"/>
<circle cx="389.8" cy="290" r="1.5" fill="#3596b5" stroke="#0b3a50" stroke-width="1.0"/>
<circle cx="398" cy="288.7" r="1.5" fill="#3596b5" stroke="#0b3a50" stroke-width="1.0"/>
<circle cx="405.8" cy="222.1" r="1.9" fill="#8e1f24" stroke="#4a0a0c" stroke-width="0.9"/>
<circle cx="410.3" cy="221.1" r="1.9" fill="#8e1f24" stroke="#4a0a0c" stroke-width="0.9"/>
<circle cx="414.7" cy="224.4" r="1.9" fill="#8e1f24" stroke="#4a0a0c" stroke-width="0.9"/>
<circle cx="406.4" cy="228.4" r="1.9" fill="#8e1f24" stroke="#4a0a0c" stroke-width="0.9"/>
<circle cx="410.3" cy="227" r="1.9" fill="#8e1f24" stroke="#4a0a0c" stroke-width="0.9"/>
<circle cx="414.7" cy="229.1" r="1.9" fill="#8e1f24" stroke="#4a0a0c" stroke-width="0.9"/>
<circle cx="410.3" cy="232.8" r="1.9" fill="#8e1f24" stroke="#4a0a0c" stroke-width="0.9"/>
<circle cx="410.3" cy="245.8" r="1.9" fill="#8e1f24" stroke="#4a0a0c" stroke-width="0.9"/>
<circle cx="427" cy="280.8" r="1.5" fill="#4e9e4e" stroke="#0f3a10" stroke-width="0.9"/>
<circle cx="427" cy="289.6" r="1.5" fill="#3a97b8" stroke="#0d3348" stroke-width="0.9"/>
<text x="433.2" y="283.3" font-size="7.3" textLength="18.7" lengthAdjust="spacingAndGlyphs" fill="#2a2a2a">CART</text>
<text x="433.2" y="292.7" font-size="7.3" textLength="31.8" lengthAdjust="spacingAndGlyphs" fill="#2a2a2a">RT+CART</text>
<text x="0" y="0" font-size="7.6" text-anchor="end" fill="#2a2a2a" transform="translate(333.9 313.6) scale(1.0017 1)">AH1 peptide</text>
<text x="0" y="0" font-size="7.6" text-anchor="end" fill="#2a2a2a" transform="translate(334.2 324.7) scale(1.0029 1)">anti-MHCI</text>
<text x="0" y="0" font-size="7.6" text-anchor="end" fill="#2a2a2a" transform="translate(333.9 336.2) scale(1.0520 1)">aCD3/CD28</text>
<text x="352.3" y="313.8" font-size="7.6" text-anchor="middle" fill="#2a2a2a">+</text>
<text x="385.6" y="313.8" font-size="7.6" text-anchor="middle" fill="#2a2a2a">+</text>
<text x="410.5" y="313.8" font-size="7.6" text-anchor="middle" fill="#555">&#8722;</text>
<text x="352.3" y="324.8" font-size="7.6" text-anchor="middle" fill="#555">&#8722;</text>
<text x="385.6" y="324.8" font-size="7.6" text-anchor="middle" fill="#2a2a2a">+</text>
<text x="410.5" y="324.8" font-size="7.6" text-anchor="middle" fill="#555">&#8722;</text>
<text x="352.3" y="336.2" font-size="7.6" text-anchor="middle" fill="#555">&#8722;</text>
<text x="385.6" y="336.2" font-size="7.6" text-anchor="middle" fill="#555">&#8722;</text>
<text x="410.5" y="336.2" font-size="7.6" text-anchor="middle" fill="#2a2a2a">+</text>
</svg></body></html>
